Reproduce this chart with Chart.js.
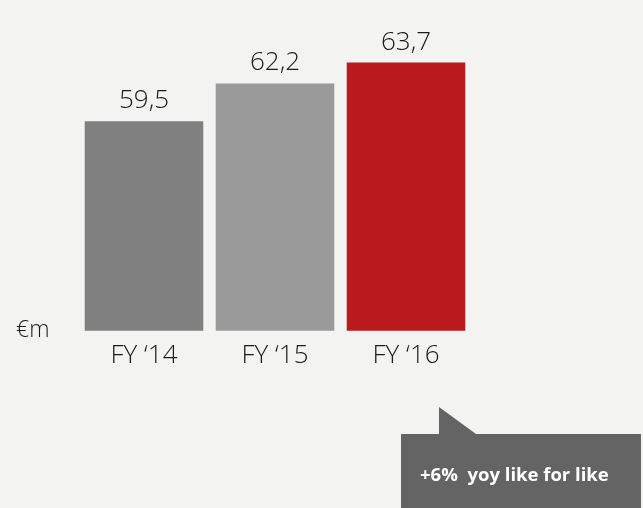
<!DOCTYPE html>
<html>
<head>
<meta charset="utf-8">
<script src="https://cdn.jsdelivr.net/npm/chart.js@4/dist/chart.umd.min.js"></script>
<style>
  html, body { margin: 0; padding: 0; background: #f3f3f2; }
  #wrap { width: 643px; height: 508px; position: relative; }
</style>
</head>
<body>
<div id="wrap"><canvas id="c" width="643" height="508"></canvas></div>
<script>
const categories = ["FY \u201814", "FY \u201815", "FY \u201816"];
const revenue = [59.5, 62.2, 63.7];
const barColors = ["#808080", "#9a9a9a", "#bb1b1f"];
const unitLabel = "\u20acm";
const calloutText = "+6%  yoy like for like";

const FONT = "'Open Sans', 'Noto Sans', sans-serif";

const decor = {
  id: 'decor',
  afterDatasetsDraw(chart) {
    const ctx = chart.ctx;
    const meta = chart.getDatasetMeta(0);
    ctx.save();
    // value labels
    ctx.font = "300 26px " + FONT;
    ctx.fillStyle = "#1a1a1a";
    ctx.textAlign = "center";
    ctx.textBaseline = "alphabetic";
    meta.data.forEach((bar, i) => {
      ctx.fillText(revenue[i].toFixed(1).replace('.', ','), bar.x, bar.y - 13);
    });
    // unit label
    ctx.font = "300 23px " + FONT;
    ctx.textAlign = "left";
    ctx.fillText(unitLabel, 16, 337);
    // callout
    ctx.fillStyle = "#646464";
    ctx.beginPath();
    ctx.moveTo(401, 434);
    ctx.lineTo(439, 434);
    ctx.lineTo(439, 407);
    ctx.lineTo(476, 434);
    ctx.lineTo(641, 434);
    ctx.lineTo(641, 508);
    ctx.lineTo(401, 508);
    ctx.closePath();
    ctx.fill();
    ctx.fillStyle = "#ffffff";
    ctx.font = "bold 18.5px " + FONT;
    ctx.fillText(calloutText, 420, 481);
    ctx.restore();
  }
};

new Chart(document.getElementById('c'), {
  type: 'bar',
  data: {
    labels: categories,
    datasets: [{
      data: revenue,
      backgroundColor: barColors,
      borderWidth: 0,
      barPercentage: 0.905,
      categoryPercentage: 1.0
    }]
  },
  options: {
    responsive: false,
    animation: false,
    devicePixelRatio: 1,
    layout: { padding: { left: 78.5, right: 171.5, top: 22, bottom: 128 } },
    plugins: { legend: { display: false }, tooltip: { enabled: false } },
    scales: {
      x: {
        grid: { display: false, drawTicks: false },
        border: { display: false },
        ticks: { color: "#1a1a1a", font: { family: FONT, size: 26, weight: 300 }, padding: 9 }
      },
      y: {
        display: false,
        min: 44.5,
        max: 66.6
      }
    }
  },
  plugins: [decor]
});
</script>
</body>
</html>
